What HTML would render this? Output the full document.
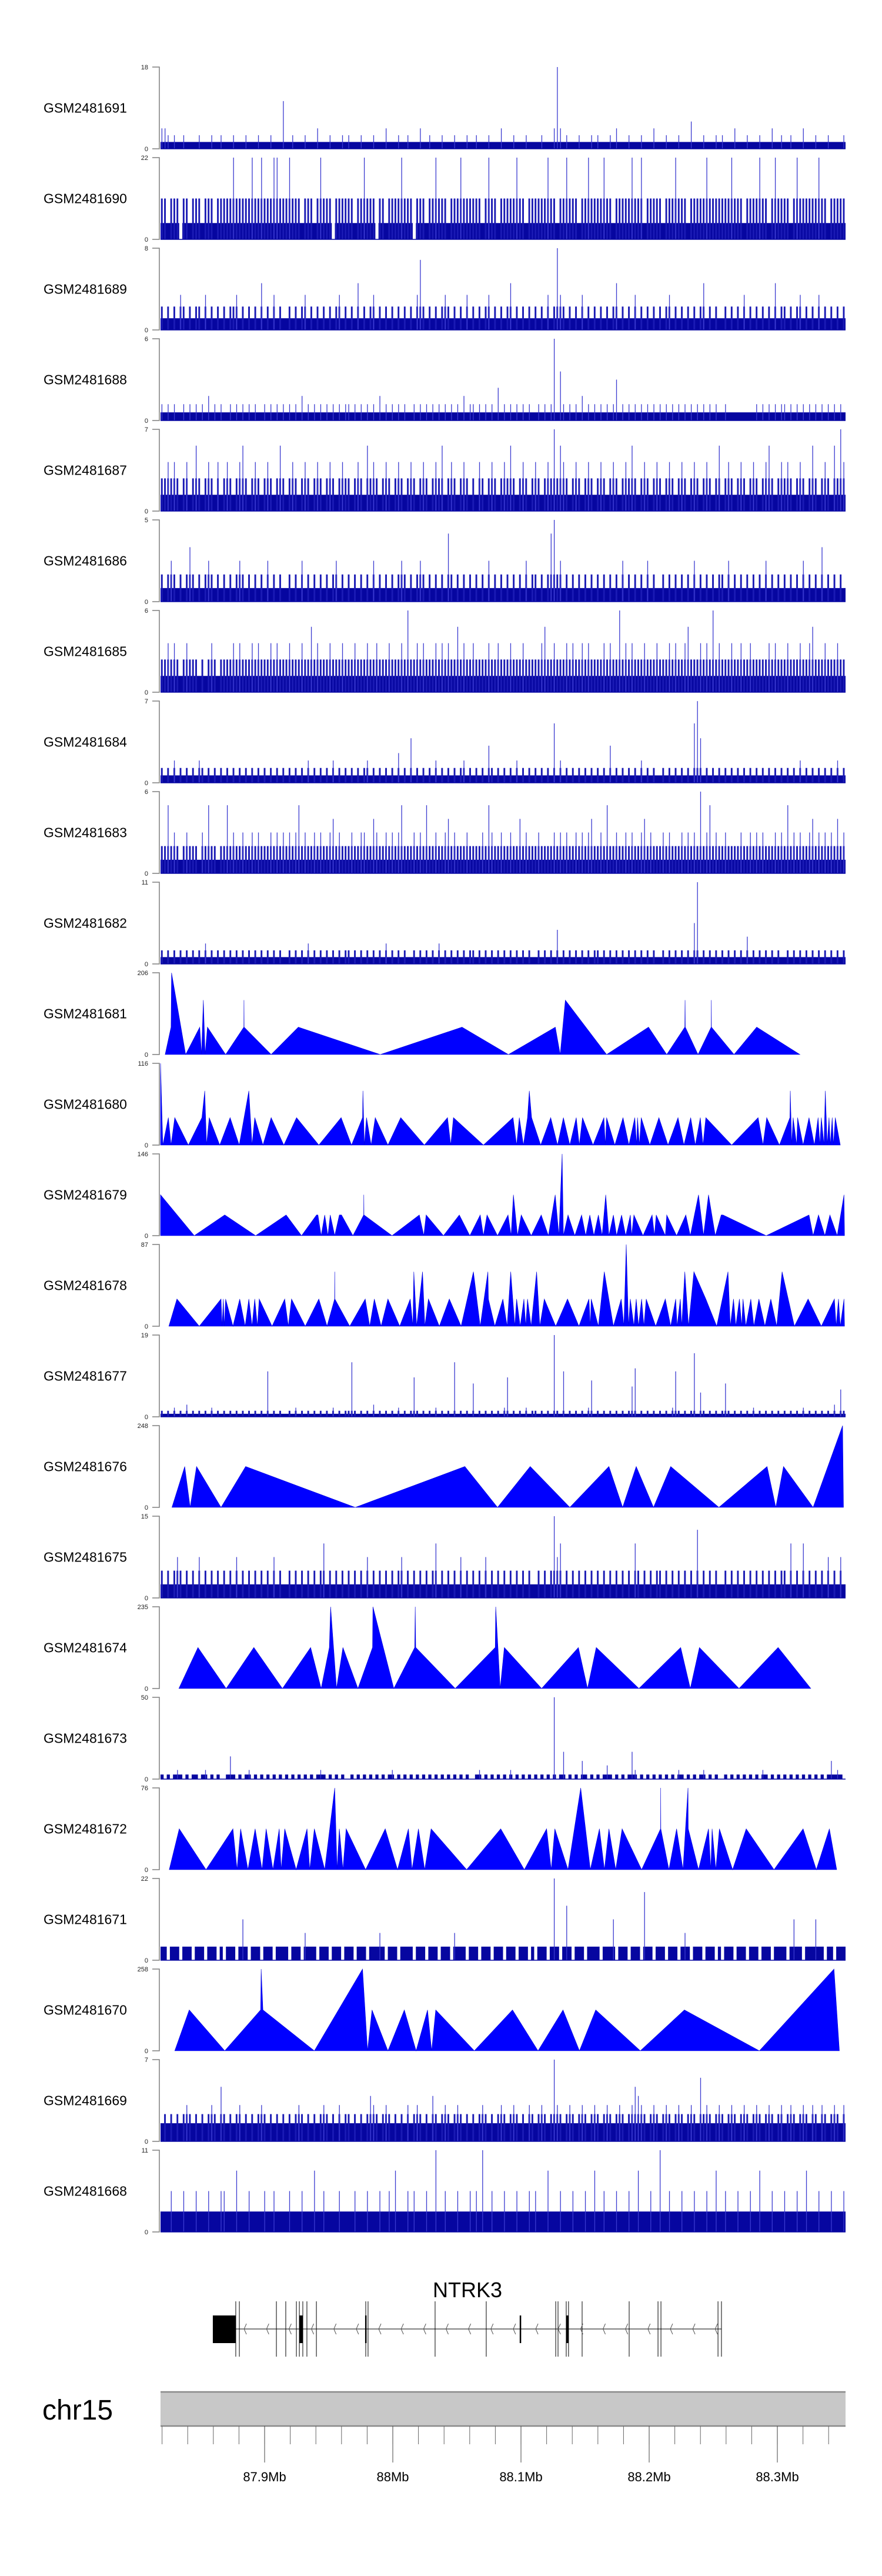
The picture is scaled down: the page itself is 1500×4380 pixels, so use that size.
<!DOCTYPE html>
<html><head><meta charset="utf-8"><title>NTRK3 coverage tracks</title>
<style>
html,body{margin:0;padding:0;background:#fff;}
svg{display:block;font-family:"Liberation Sans",Arial,sans-serif;}
</style></head>
<body>
<svg id="chart" width="1500" height="4380" viewBox="0 0 1500 4380" xmlns="http://www.w3.org/2000/svg">
<rect x="0" y="0" width="1500" height="4380" fill="#fff"/>
<g id="tracks"></g>
<g id="gene">
  <text x="795" y="3906" font-size="36" text-anchor="middle" fill="#000">NTRK3</text>
</g>
<g id="ideo">
  <text x="72" y="4114" font-size="48" fill="#000">chr15</text>
</g>
</svg>
<script>
// ---------- data ----------
// Positions are kb offsets from chr15:87,800,000
const trackNames = ["GSM2481691","GSM2481690","GSM2481689","GSM2481688","GSM2481687","GSM2481686","GSM2481685","GSM2481684","GSM2481683","GSM2481682","GSM2481681","GSM2481680","GSM2481679","GSM2481678","GSM2481677","GSM2481676","GSM2481675","GSM2481674","GSM2481673","GSM2481672","GSM2481671","GSM2481670","GSM2481669","GSM2481668"];
const trackMax = [18,22,8,6,7,5,6,7,6,11,206,116,146,87,19,248,15,235,50,76,22,258,7,11];

// binned coverage tracks: base-36 level per bin, value = level * unit
const binnedUnits = {
 GSM2481691:1.5, GSM2481690:2.2, GSM2481689:1.143, GSM2481688:0.6, GSM2481687:1.4, GSM2481686:0.833,
 GSM2481685:1.2, GSM2481684:0.636, GSM2481683:1, GSM2481682:0.917, GSM2481677:0.704, GSM2481675:2.5,
 GSM2481673:2.78, GSM2481671:3.667, GSM2481669:0.778, GSM2481668:2.75
};
const binnedLevels = {
 GSM2481691:"33212112111121112112"+"11121112111211121117"+"11211121113111211121"+"21112111211131112112"+"11131121112111211121"+"12111211131112111211"+"1121113c312111211121"+"21112131112111211131"+"11211121114111211121"+"21113111211121113112"+"11211131112111211112",
 GSM2481690:"55255505525552555255"+"555a55555a55a555aa55"+"5a555255525a55505555"+"55255a55505525555a55"+"50555255a5552555a555"+"55525a55255555a55255"+"5555a55255a555255a55"+"55a55255555a55a25555"+"52555a555255555a5555"+"555a55525555a5525a55"+"5525a555555a55255555",
 GSM2481689:"21212132121221312121"+"21223121212141213121"+"12121231212121212312"+"12141212312121212121"+"21362121212321212131"+"21212312121241212121"+"21213127321212131212"+"12121241212131212121"+"21231212121212412121"+"12121213121212121412"+"21212312121312121212",
 GSM2481688:"21212112121212131212"+"11212121212112121212"+"12121312121212121212"+"21212121213121212121"+"12121212121212121312"+"21212121412121212121"+"121212a1621212131212"+"12121251212121212121"+"21212121212121212121"+"12111111111212121212"+"21212121212121212121",
 GSM2481687:"22323212312421232131"+"23212342123212321242"+"12321232123212321232"+"21232142321232123212"+"32123212324123212321"+"21321232123242123212"+"32123252432123212321"+"23212321232421232123"+"21232123212321232124"+"12321232123212342123"+"23212321242123214253",
 GSM2481686:"21232121242121232121"+"21212321212121312121"+"12121312121212123121"+"21212121312121212321"+"21232121212152121212"+"12121312121212121312"+"21212562312121212121"+"21212121312121213121"+"12121212121312121212"+"21312121212121312121"+"21212131212141212121",
 GSM2481685:"22323212322212123212"+"22232322232322232322"+"23222322423222322232"+"22322232232223222325"+"22323222323232242322"+"32222322322232223222"+"22342232223232232322"+"22323225232322232223"+"22232322342223232523"+"22232232232222232322"+"23222322342223222322",
 GSM2481684:"21213121212132121212"+"12121212121212121212"+"12121213121212131212"+"12121231212121214121"+"61212121312121212312"+"12121521212121312121"+"21212181312121212121"+"21215121212121312121"+"121212121218b6121212"+"12121212121212121212"+"12121312121212121312",
 GSM2481683:"22523212322213252212"+"25232232232322232323"+"23235232232322342322"+"23223322432232323522"+"23232522322342322232"+"22232532232232242322"+"23222232323223232342"+"23252232232322342322"+"23232223232326235232"+"23222232232323222323"+"25232322342323232423",
 GSM2481682:"21212121212121312121"+"21212121212121212121"+"12121213121212121212"+"21212121212131212121"+"12121212131212121212"+"21212121212121212121"+"12121215121212121212"+"21212121212121212121"+"121212121216c1212121"+"21212121412121212121"+"12121212121212121212",
 GSM2481677:"21213121412121213121"+"21212121212121f12121"+"12131212121212131212"+"2i212121412121213121"+"2d212121312121i12121"+"b1212121213d12121312"+"212121r21f12121213c1"+"21212121212ag1212121"+"21213f21212l18212121"+"2b212121213121212121"+"21212131212121214192",
 GSM2481675:"21212321212131212121"+"21213121212121213121"+"12121212121241212121"+"21212131212121212312"+"12121212412121213121"+"21213121212121212121"+"12121263412121212121"+"21212121212142121212"+"21212121212151212121"+"12121212121212121212"+"21412141212121312131",
 GSM2481673:"10101210101101201010"+"01510101201010101010"+"10101010101210101010"+"01010101010101201010"+"10101010101010101010"+"01201010101020101010"+"101010i0160101041010"+"10131010101620101010"+"10101021010101201010"+"01010101010102101010"+"10101010101010141210",
 GSM2481671:"11011101110111011101"+"01110131011101110111"+"10111021110111011101"+"11011101112101110111"+"10111011101110211101"+"11011101110111011101"+"01110161014101110111"+"10111301110111051101"+"11011101210111011101"+"01110111011101110111"+"10131101113110110111",
 GSM2481669:"23232323432323234326"+"32323423232343232323"+"23234323232343232423"+"32323235432343232324"+"23432325323432343232"+"32343232343234323243"+"23432394323432343234"+"32343234323465432343"+"23432343234327343234"+"32343234323432343234"+"23432343243243234324",
 GSM2481668:"11121112111211121112"+"21113111211112112111"+"12111211131121111211"+"11211121112112131112"+"12111211411211121112"+"12141121112111211121"+"21113111211121112113"+"11211121112113111211"+"41121112111211121131"+"12111211121131112111"+"21112113111211121112"
};

// peak-shaped tracks: [position kb, value]
const t1681 = [[22.4,0],[27.0,69],[27.4,206],[38.4,0],[49.4,69],[50.8,0],[52.2,137],[53.6,0],[55.4,69],[69.6,0],[83.8,69],[83.9,137],[84.0,69],[105.1,0],[126.3,69],[190.2,0],[254.0,69],[290.2,0],[326.8,69],[330.6,0],[334.6,137],[366.8,0],[399.5,69],[413.7,0],[427.8,69],[428.0,137],[428.2,69],[438.1,0],[448.4,69],[448.5,137],[448.6,69],[466.2,0],[483.9,69],[517.6,0]];
const t1680 = [[18.8,116],[20.6,0],[24.9,39],[27.0,0],[29.9,39],[40.5,0],[51.1,39],[53.3,77],[54.7,0],[56.8,39],[65.0,0],[73.1,39],[80.2,0],[87.7,77],[90.2,0],[92.3,39],[98.7,0],[105.1,39],[115.0,0],[124.9,39],[142.3,0],[159.7,39],[167.8,0],[176.4,39],[176.7,77],[177.8,0],[179.5,39],[183.1,0],[186.3,39],[196.2,0],[206.2,39],[224.6,0],[242.7,39],[245.2,0],[247.3,39],[270.7,0],[293.8,39],[296.6,0],[298.7,39],[301.9,0],[305.1,39],[306.5,77],[308.3,39],[315.4,0],[323.2,39],[328.5,0],[333.1,39],[338.1,0],[343.1,39],[345.5,0],[348.0,39],[356.2,0],[364.7,39],[365.8,0],[366.8,39],[373.2,0],[379.6,39],[384.2,0],[388.8,39],[390.2,0],[390.9,39],[392.4,0],[393.8,39],[400.5,0],[407.6,39],[414.7,0],[422.5,39],[427.1,0],[432.4,39],[436.0,0],[439.9,39],[442.0,0],[444.2,39],[464.4,0],[485.0,39],[488.8,0],[491.7,39],[501.6,0],[509.8,39],[510.1,77],[511.2,0],[512.3,39],[515.1,0],[515.8,39],[520.1,0],[524.7,39],[528.9,0],[531.8,39],[533.2,0],[534.3,39],[536.4,0],[537.4,77],[538.9,0],[540.3,39],[541.3,0],[542.8,39],[543.8,0],[545.2,39],[549.1,0]];
const t1679 = [[18.8,73],[45.1,0],[68.9,37],[93.0,0],[116.8,37],[128.8,0],[140.5,37],[141.6,37],[144.1,0],[146.9,37],[149.4,0],[151.2,37],[154.7,0],[158.3,37],[160.0,37],[168.9,0],[177.3,37],[177.4,73],[177.5,37],[199.4,0],[220.7,37],[224.2,0],[226.0,37],[239.5,0],[251.9,37],[260.1,0],[268.2,37],[270.7,0],[273.5,37],[281.7,0],[289.9,37],[292.3,0],[294.1,73],[297.3,0],[300.2,37],[308.0,0],[315.8,37],[321.4,0],[326.7,73],[329.6,0],[332.1,146],[333.1,0],[336.7,37],[342.0,0],[347.3,37],[350.5,0],[353.7,37],[356.9,0],[360.4,37],[363.3,0],[366.1,73],[368.6,0],[372.1,37],[374.6,0],[378.5,37],[381.7,0],[385.3,37],[386.3,0],[388.1,37],[395.2,0],[402.3,37],[404.1,0],[405.5,37],[412.6,0],[413.7,37],[421.4,0],[428.6,37],[432.1,0],[435.3,37],[438.5,73],[442.4,0],[446.3,73],[451.6,0],[456.2,37],[457.6,37],[491.3,0],[524.7,37],[527.9,0],[532.1,37],[537.1,0],[541.0,37],[546.7,0],[552.0,73],[552.4,0]];
const t1678 = [[25.3,0],[31.6,29],[49.0,0],[66.0,29],[66.8,0],[67.8,29],[68.5,0],[69.6,29],[75.3,0],[80.6,29],[84.8,0],[87.7,29],[90.2,0],[92.3,29],[94.4,0],[95.8,29],[105.8,0],[115.7,29],[118.5,0],[121.0,29],[131.7,0],[142.3,29],[148.7,0],[154.6,29],[154.7,58],[154.8,29],[166.4,0],[178.5,29],[182.0,0],[185.6,29],[190.9,0],[196.2,29],[205.4,0],[213.6,29],[215.7,0],[216.4,58],[218.6,0],[223.2,58],[225.0,0],[227.8,29],[236.3,0],[244.1,29],[253.3,0],[262.9,58],[268.2,0],[274.2,58],[274.6,29],[279.6,0],[285.9,29],[289.2,0],[292.0,58],[295.2,0],[296.6,29],[299.4,0],[302.3,29],[303.7,0],[305.1,29],[307.9,0],[312.2,58],[314.7,0],[318.2,29],[327.1,0],[336.3,29],[345.2,0],[353.0,29],[354.1,0],[354.8,29],[360.4,0],[365.0,58],[372.1,0],[378.2,29],[380.3,0],[382.1,87],[383.9,0],[385.3,29],[388.1,0],[389.9,29],[391.7,0],[394.1,29],[395.9,0],[397.7,29],[405.1,0],[412.6,29],[416.8,0],[420.7,29],[421.8,0],[424.3,29],[425.4,0],[427.8,58],[430.7,0],[434.9,58],[444.2,29],[452.7,0],[461.5,58],[463.3,0],[465.8,29],[467.6,0],[470.4,29],[472.2,0],[473.2,29],[475.4,0],[479.3,29],[481.7,0],[485.6,29],[490.3,0],[494.9,29],[499.5,0],[503.7,58],[513.3,0],[524.0,29],[534.3,0],[544.5,29],[545.9,0],[547.7,29],[549.1,0],[552.0,29],[552.4,0]];
const t1676 = [[27.7,0],[37.7,124],[41.9,0],[46.9,124],[66.0,0],[85.2,124],[170.7,0],[256.2,124],[281.7,0],[307.2,124],[338.1,0],[368.6,124],[379.3,0],[389.9,124],[403.4,0],[416.8,124],[454.4,0],[492.0,124],[498.8,0],[504.8,124],[527.9,0],[550.9,248],[551.6,0]];
const t1674 = [[33.1,0],[48.0,118],[70.0,0],[91.6,118],[113.9,0],[135.9,118],[144.1,0],[150.5,118],[151.5,235],[156.1,0],[161.1,118],[172.8,0],[184.2,118],[184.5,235],[200.8,0],[217.1,118],[217.5,235],[217.9,118],[248.7,0],[279.9,118],[280.3,235],[283.8,0],[287.0,118],[316.1,0],[344.8,118],[351.9,0],[358.7,118],[392.0,0],[424.6,118],[432.1,0],[439.2,118],[470.1,0],[500.6,118],[526.1,0]];
const t1672 = [[25.6,0],[33.4,38],[54.3,0],[75.3,38],[78.5,0],[81.3,38],[87.0,0],[92.6,38],[98.0,0],[101.2,38],[106.5,0],[111.4,38],[112.9,0],[115.7,38],[124.6,0],[133.1,38],[135.2,0],[138.8,38],[146.9,0],[154.7,76],[156.5,0],[158.3,38],[161.1,0],[163.6,38],[178.8,0],[194.1,38],[203.7,0],[212.2,38],[215.0,0],[220.0,38],[224.9,0],[229.9,38],[257.6,0],[284.2,38],[302.6,0],[320.0,38],[323.6,0],[326.4,38],[336.7,0],[346.6,76],[354.1,0],[361.2,38],[365.1,0],[368.6,38],[373.9,0],[378.9,38],[394.1,0],[408.9,38],[409.0,76],[409.1,38],[415.4,0],[421.4,38],[426.4,0],[430.3,76],[430.5,38],[438.5,0],[446.3,38],[448.1,0],[449.1,38],[452.0,0],[454.8,38],[465.1,0],[475.7,38],[497.4,0],[520.1,38],[530.4,0],[540.6,38],[546.3,0]];
const t1670 = [[29.9,0],[41.2,129],[68.9,0],[96.9,129],[97.3,258],[98.7,129],[138.8,0],[176.4,258],[180.3,0],[183.8,129],[196.2,0],[209.0,129],[218.2,0],[227.1,129],[230.3,0],[233.5,129],[263.6,0],[293.4,129],[313.3,0],[332.8,129],[345.6,0],[358.3,129],[393.1,0],[427.5,129],[486.0,0],[544.2,258],[548.4,0]];
const peakTracks = {GSM2481681:t1681, GSM2481680:t1680, GSM2481679:t1679, GSM2481678:t1678, GSM2481676:t1676, GSM2481674:t1674, GSM2481672:t1672, GSM2481670:t1670};

// gene model (kb offsets)
const geneStart = 59.6, geneEnd = 456.4;
const utrBlock = [59.6, 77.5];
const exonLines = [77.5,80.3,109.2,116.5,124.8,127.1,129.8,133.0,140.4,178.9,180.7,233.0,272.9,327.1,328.9,335.3,337.1,347.7,384.4,406.9,409.2,453.7,456.4];
const exonBlocks = [[127.1,129.8],[178.4,179.4],[299.0,300.0],[335.3,337.1]];
// axis ticks (Mb)
const majorTicks = [87.9,88.0,88.1,88.2,88.3];
const majorLabels = ["87.9Mb","88Mb","88.1Mb","88.2Mb","88.3Mb"];
const minorStepMb = 0.02;

// ---------- layout ----------
const SVGNS = "http://www.w3.org/2000/svg";
const X0 = 273, X1 = 1438, KB0 = 18.8, KB1 = 553.2;
const TOP0 = 114, STEP = 154, TH = 139, NBINS = 220;
function xs(kb){ return X0 + (kb - KB0) * (X1 - X0) / (KB1 - KB0); }
function xMb(mb){ return xs((mb - 87.8) * 1000); }
function el(tag, attrs, parent){ const e = document.createElementNS(SVGNS, tag); for (const k in attrs) e.setAttribute(k, attrs[k]); parent.appendChild(e); return e; }

const tracksG = document.getElementById("tracks");
trackNames.forEach((name, i) => {
  const top = TOP0 + STEP * i, base = top + TH, ymax = trackMax[i];
  const ys = v => base - (v / ymax) * TH;
  const g = el("g", {}, tracksG);
  
  
  const lab = el("text", {x: 74, y: (top + base) / 2 + 8, "font-size": 23, fill: "#000"}, g);
  lab.textContent = name;
  
  
  const ax = el("path", {d: `M259 ${top}H271V${base}H259`, fill: "none", stroke: "#7f7f7f", "stroke-width": 1.5}, g);
  
  
  const tMax = el("text", {x: 252, y: top + 4, "font-size": 11, "text-anchor": "end", fill: "#222"}, g);
  tMax.textContent = String(ymax);
  
  
  const tZero = el("text", {x: 252, y: base + 4, "font-size": 11, "text-anchor": "end", fill: "#222"}, g);
  tZero.textContent = "0";
  
  

  if (peakTracks[name]) {
    const pts = peakTracks[name];
    let d = `M${xs(pts[0][0]).toFixed(2)} ${base}`;
    pts.forEach(p => { d += `L${xs(p[0]).toFixed(2)} ${ys(p[1]).toFixed(2)}`; });
    d += `L${xs(pts[pts.length-1][0]).toFixed(2)} ${base}Z`;
    const area = el("path", {d: d, fill: "#0000ff", stroke: "#0000dd", "stroke-width": 0.6}, g);
    
    
  } else {
    const lv = binnedLevels[name], unit = binnedUnits[name];
    const vals = []; for (let k = 0; k < lv.length; k++) vals.push(parseInt(lv[k], 36) * unit);
    const nz = vals.filter(v => v > 0); const low = Math.min.apply(null, nz);
    const sorted = vals.slice().sort((a,b)=>a-b); const med = sorted[Math.floor(sorted.length/2)];
    const binKb = (KB1 - KB0) / NBINS;
    let dLow = "", dMid = "", dSpike = "";
    vals.forEach((v, k) => {
      const xa = xs(KB0 + k * binKb), xb = xs(KB0 + (k + 1) * binKb), w = xb - xa;
      if (v > 0) dLow += `M${xa.toFixed(2)} ${base}V${ys(Math.min(v, low)).toFixed(2)}H${xb.toFixed(2)}V${base}Z`;
      const mv = Math.min(v, med);
      if (mv > low) { const x1 = xa + w * 0.15, x2 = xa + w * 0.7; dMid += `M${x1.toFixed(2)} ${base}V${ys(mv).toFixed(2)}H${x2.toFixed(2)}V${base}Z`; }
      if (v > med) { const xm = (xa + w * 0.45).toFixed(2); dSpike += `M${xm} ${base}V${ys(v).toFixed(2)}`; }
    });
    const band = el("path", {d: dLow, fill: "#0606a0"}, g);
    
    
    const mid = el("path", {d: dMid, fill: "#1a1ab4"}, g);
    
    
    const spikes = el("path", {d: dSpike, fill: "none", stroke: "#3a3ad0", "stroke-width": 1.3}, g);
    
    
    const bl = el("path", {d: `M${X0} ${base}H${X1}`, stroke: "#0606a0", "stroke-width": 1.5}, g);
    
    
  }
});

// gene track
const geneG = document.getElementById("gene");
const gy = 3960, gTop = 3913, gBot = 4007, eTop = 3937, eBot = 3984;
const intron = el("path", {d: `M${xs(geneStart)} ${gy}H${xs(geneEnd)}`, stroke: "#000", "stroke-width": 1}, geneG);


const utr = el("rect", {x: xs(utrBlock[0]), y: eTop, width: xs(utrBlock[1]) - xs(utrBlock[0]), height: eBot - eTop, fill: "#000"}, geneG);


let dEx = "";
exonLines.forEach(p => { dEx += `M${xs(p).toFixed(2)} ${gTop}V${gBot}`; });
const exl = el("path", {d: dEx, stroke: "#000", "stroke-width": 1}, geneG);


exonBlocks.forEach(b => {
  const r = el("rect", {x: xs(b[0]), y: eTop, width: Math.max(2.5, xs(b[1]) - xs(b[0])), height: eBot - eTop, fill: "#000"}, geneG);
  
  
});
let dCh = "";
for (let p = 84; p < geneEnd; p += 17.5) { const x = xs(p); dCh += `M${(x+4).toFixed(2)} ${gy-9}L${x.toFixed(2)} ${gy}L${(x+4).toFixed(2)} ${gy+9}`; }
const chev = el("path", {d: dCh, fill: "none", stroke: "#555", "stroke-width": 1}, geneG);



// chromosome ideogram + axis
const ideoG = document.getElementById("ideo");
const bar = el("rect", {x: X0, y: 4067, width: X1 - X0, height: 58, fill: "#c8c8c8"}, ideoG);


const bEdges = el("path", {d: `M${X0} 4067H${X1}M${X0} 4125H${X1}`, stroke: "#8a8a8a", "stroke-width": 2.5}, ideoG);


let dMinor = "";
const mbLo = 87.8 + KB0 / 1000, mbHi = 87.8 + KB1 / 1000;
for (let m = Math.ceil(mbLo / minorStepMb) * minorStepMb; m <= mbHi; m += minorStepMb) { const x = xMb(m); dMinor += `M${x.toFixed(2)} 4125V4156`; }
const minor = el("path", {d: dMinor, stroke: "#666", "stroke-width": 1}, ideoG);


majorTicks.forEach((m, k) => {
  const x = xMb(m);
  const t = el("path", {d: `M${x.toFixed(2)} 4125V4187`, stroke: "#444", "stroke-width": 1}, ideoG);
  
  
  const lt = el("text", {x: x, y: 4219, "font-size": 22, "text-anchor": "middle", fill: "#000"}, ideoG);
  lt.textContent = majorLabels[k];
  
  
});
</script>
</body></html>
